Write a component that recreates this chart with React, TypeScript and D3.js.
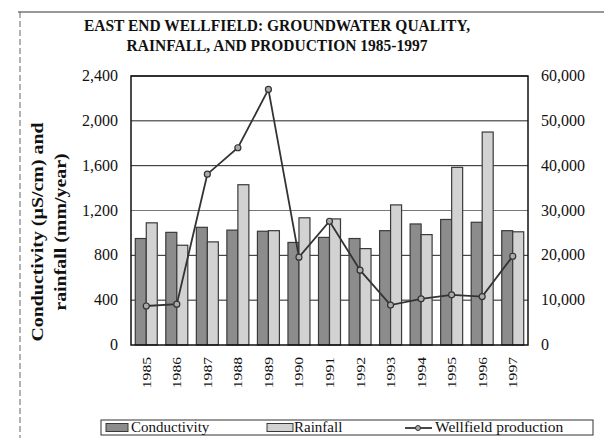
import React, { useRef, useEffect } from 'react'
import * as d3 from 'd3'

const years = ['1985', '1986', '1987', '1988', '1989', '1990', '1991', '1992', '1993', '1994', '1995', '1996', '1997']
const conductivity = [950, 1005, 1050, 1025, 1015, 915, 960, 950, 1020, 1080, 1120, 1095, 1020]
const rainfall = [1090, 890, 920, 1430, 1020, 1135, 1125, 860, 1250, 985, 1585, 1900, 1010]
const production = [8700, 9100, 38100, 44000, 57000, 19600, 27600, 16700, 8900, 10300, 11200, 10800, 19800]
const leftTicks = [0, 400, 800, 1200, 1600, 2000, 2400]
const rightTicks = [0, 10000, 20000, 30000, 40000, 50000, 60000]

const W = 604
const H = 438

const App: React.FC = () => {
  const ref = useRef<SVGSVGElement>(null)

  useEffect(() => {
    const svg = d3.select(ref.current)
    svg.selectAll('*').remove()

    const m = { left: 131, right: 528, top: 76, bottom: 345 }
    const font = '"Liberation Serif", "Times New Roman", serif'

    const x = d3.scaleBand<string>().domain(years).range([m.left, m.right]).paddingInner(0.28).paddingOuter(0.14)
    const yL = d3.scaleLinear().domain([0, 2400]).range([m.bottom, m.top])
    const yR = d3.scaleLinear().domain([0, 60000]).range([m.bottom, m.top])
    const bw = x.bandwidth() / 2

    // outer frame bits
    svg.append('line').attr('x1', 18).attr('x2', W).attr('y1', 12).attr('y2', 12).attr('stroke', '#333').attr('stroke-width', 1)
    svg.append('line').attr('x1', 20).attr('x2', 20).attr('y1', 12).attr('y2', H)
      .attr('stroke', '#666').attr('stroke-width', 1).attr('stroke-dasharray', '6,3')

    // title
    const title = svg.append('text').attr('text-anchor', 'middle').attr('font-family', font)
      .attr('font-weight', 'bold').attr('font-size', 15.5).attr('fill', '#111')
      .attr('transform', 'translate(0,0) scale(1,1.12)')
    title.append('tspan').attr('x', 277).attr('y', 31 / 1.12).text('EAST END WELLFIELD: GROUNDWATER QUALITY,')
    title.append('tspan').attr('x', 277).attr('y', 51 / 1.12).text('RAINFALL, AND PRODUCTION 1985-1997')

    // gridlines
    svg.append('g').selectAll('line').data(leftTicks.slice(1)).enter().append('line')
      .attr('x1', m.left).attr('x2', m.right)
      .attr('y1', (d) => yL(d)).attr('y2', (d) => yL(d))
      .attr('stroke', (d) => (d === 1200 ? '#777' : '#222')).attr('stroke-width', 1)

    // bars
    const g = svg.append('g')
    g.selectAll('rect.cond').data(conductivity).enter().append('rect')
      .attr('x', (d, i) => x(years[i])!)
      .attr('y', (d) => yL(d))
      .attr('width', bw)
      .attr('height', (d) => yL(0) - yL(d))
      .attr('fill', '#8c8c8c').attr('stroke', '#3a3a3a').attr('stroke-width', 1.2)
    g.selectAll('rect.rain').data(rainfall).enter().append('rect')
      .attr('x', (d, i) => x(years[i])! + bw)
      .attr('y', (d) => yL(d))
      .attr('width', bw)
      .attr('height', (d) => yL(0) - yL(d))
      .attr('fill', '#d2d2d2').attr('stroke', '#3a3a3a').attr('stroke-width', 1.2)

    // line
    const line = d3.line<number>()
      .x((d, i) => x(years[i])! + x.bandwidth() / 2)
      .y((d) => yR(d))
    svg.append('path').datum(production).attr('d', line).attr('fill', 'none')
      .attr('stroke', '#333').attr('stroke-width', 1.8)
    svg.append('g').selectAll('circle').data(production).enter().append('circle')
      .attr('cx', (d, i) => x(years[i])! + x.bandwidth() / 2)
      .attr('cy', (d) => yR(d))
      .attr('r', 3).attr('fill', '#aaa').attr('stroke', '#333').attr('stroke-width', 1.2)

    // plot frame
    svg.append('rect').attr('x', m.left).attr('y', m.top).attr('width', m.right - m.left).attr('height', m.bottom - m.top)
      .attr('fill', 'none').attr('stroke', '#111').attr('stroke-width', 1.5)

    // axes labels
    const fmt = d3.format(',')
    svg.append('g').selectAll('text').data(leftTicks).enter().append('text')
      .attr('x', 118).attr('y', (d) => yL(d) + 5)
      .attr('text-anchor', 'end').attr('font-family', font).attr('font-size', 16).attr('fill', '#111')
      .text((d) => fmt(d))
    svg.append('g').selectAll('text').data(rightTicks).enter().append('text')
      .attr('x', 541).attr('y', (d) => yR(d) + 5)
      .attr('text-anchor', 'start').attr('font-family', font).attr('font-size', 16).attr('fill', '#111')
      .text((d) => fmt(d))

    // year labels
    svg.append('g').selectAll('text').data(years).enter().append('text')
      .attr('transform', (d) => `translate(${x(d)! + x.bandwidth() / 2 + 4.5},357) rotate(-90) scale(1.25,1)`)
      .attr('text-anchor', 'end').attr('font-family', font).attr('font-size', 12.5).attr('fill', '#111')
      .text((d) => d)

    // y title
    const yt = svg.append('text').attr('transform', 'translate(0,232) rotate(-90) scale(1.17,1)')
      .attr('text-anchor', 'middle').attr('font-family', font).attr('font-weight', 'bold')
      .attr('font-size', 17).attr('fill', '#111')
    yt.append('tspan').attr('x', 0).attr('y', 43).text('Conductivity (\u00b5S/cm) and')
    yt.append('tspan').attr('x', 0).attr('y', 66).text('rainfall (mm/year)')

    // legend
    const lg = svg.append('g')
    lg.append('rect').attr('x', 101).attr('y', 420).attr('width', 492).attr('height', 15)
      .attr('fill', 'none').attr('stroke', '#333').attr('stroke-width', 1)
    lg.append('rect').attr('x', 106).attr('y', 423.5).attr('width', 22).attr('height', 8)
      .attr('fill', '#8c8c8c').attr('stroke', '#3a3a3a')
    lg.append('text').attr('x', 131).attr('y', 432).attr('font-family', font).attr('font-size', 15).attr('fill', '#111').text('Conductivity')
    lg.append('rect').attr('x', 267).attr('y', 423.5).attr('width', 26).attr('height', 8)
      .attr('fill', '#d2d2d2').attr('stroke', '#3a3a3a')
    lg.append('text').attr('x', 294).attr('y', 432).attr('font-family', font).attr('font-size', 15).attr('fill', '#111').text('Rainfall')
    lg.append('line').attr('x1', 405).attr('x2', 432).attr('y1', 428).attr('y2', 428).attr('stroke', '#333').attr('stroke-width', 1.8)
    lg.append('circle').attr('cx', 418).attr('cy', 428).attr('r', 2.5).attr('fill', '#aaa').attr('stroke', '#333')
    lg.append('text').attr('x', 435).attr('y', 432).attr('font-family', font).attr('font-size', 15.5).attr('fill', '#111').text('Wellfield production')
  }, [])

  return (
    <svg ref={ref} width={W} height={H} style={{ position: 'absolute', left: 0, top: 0, background: '#fff' }} />
  )
}

export default App
